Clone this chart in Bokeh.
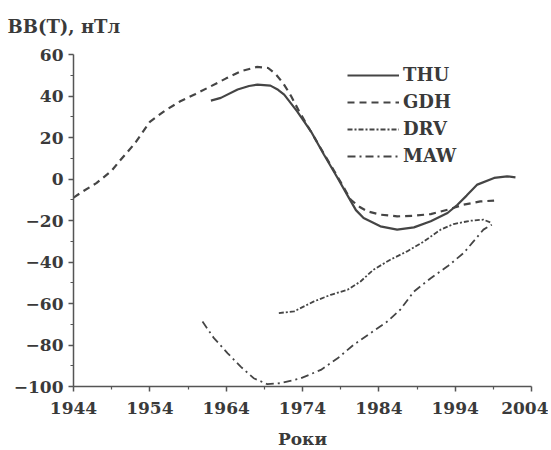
from bokeh.plotting import figure
from bokeh.models import FixedTicker, Legend, LegendItem
from bokeh.embed import file_html
from bokeh.resources import INLINE

# ---- data ----
thu_years = [1962.0, 1963.3, 1965.5, 1967.0, 1968.1, 1969.8, 1970.8, 1971.6, 1973.3, 1975.1,
             1976.8, 1978.6, 1980.1, 1981.0, 1982.0, 1984.2, 1986.4, 1988.6, 1990.8, 1993.0,
             1994.3, 1995.5, 1996.9, 1999.1, 2000.8, 2001.9]
thu_vals = [37.8, 39.1, 43.1, 44.8, 45.5, 45.0, 43.0, 40.7, 32.6, 23.0,
            11.8, 0.5, -9.2, -15.0, -18.8, -22.8, -24.4, -23.3, -20.4, -16.4,
            -12.4, -8.0, -2.7, 0.5, 1.3, 0.8]

gdh_years = [1944.0, 1945.0, 1947.0, 1949.0, 1950.0, 1952.0, 1954.0, 1956.0, 1958.0, 1960.0,
             1962.0, 1964.0, 1966.0, 1968.0, 1969.5, 1970.5, 1971.5, 1972.5, 1973.5, 1975.0,
             1977.0, 1979.0, 1980.3, 1981.5, 1982.5, 1984.2, 1986.4, 1988.6, 1990.8, 1993.0,
             1995.1, 1997.3, 1999.1]
gdh_vals = [-9.0, -6.5, -2.0, 4.0, 8.5, 17.0, 27.5, 33.0, 37.5, 41.0,
            44.7, 48.5, 52.0, 54.0, 53.5, 50.5, 46.0, 40.0, 33.0, 23.5,
            11.0, -1.5, -9.9, -13.5, -15.6, -17.2, -18.0, -17.7, -16.9, -14.8,
            -12.4, -10.8, -10.4]

drv_years = [1970.9, 1972.9, 1975.5, 1977.7, 1979.9, 1981.6, 1983.3, 1985.5, 1987.7, 1989.9,
             1992.1, 1993.8, 1996.0, 1997.7, 1998.8]
drv_vals = [-64.6, -63.8, -59.0, -55.8, -53.4, -49.4, -43.7, -38.9, -34.9, -30.1,
            -24.4, -21.7, -20.1, -19.6, -21.2]

maw_years = [1960.9, 1962.4, 1964.2, 1965.9, 1967.6, 1969.4, 1971.1, 1973.8, 1976.4, 1978.6,
             1980.7, 1982.9, 1985.1, 1986.8, 1988.6, 1990.8, 1993.0, 1995.1, 1996.4, 1997.7,
             1998.8]
maw_vals = [-68.7, -76.7, -84.0, -90.4, -96.0, -98.9, -98.4, -96.0, -92.0, -86.4,
            -79.9, -74.3, -68.7, -63.0, -54.2, -47.8, -42.1, -35.7, -30.1, -24.4,
            -22.0]

x_ticks = [1944, 1954, 1964, 1974, 1984, 1994, 2004]
x_minor = [1949, 1959, 1969, 1979, 1989, 1999]
y_ticks = [-100, -80, -60, -40, -20, 0, 20, 40, 60]
y_minor = [-90, -70, -50, -30, -10, 10, 30, 50]

series_names = ["THU", "GDH", "DRV", "MAW"]
y_title = "BB(T), нТл"
x_title = "Роки"

FONT = "DejaVu Serif"
TXT = "#3a3a3a"
LINE = "#454545"

p = figure(width=548, height=446, frame_width=458, frame_height=332,
           x_range=(1944, 2004), y_range=(-100, 60),
           output_backend="svg", toolbar_location=None,
           min_border_left=73, min_border_top=53, min_border_right=17, min_border_bottom=61)

p.outline_line_color = None
p.grid.visible = False
p.background_fill_color = "white"

p.title.text = y_title
p.title.align = "left"
p.title.vertical_align = "top"
p.title.offset = -66
p.title.standoff = 31
p.title.text_font = FONT
p.title.text_font_style = "bold"
p.title.text_font_size = "18px"
p.title.text_color = TXT

for ax in (p.xaxis[0], p.yaxis[0]):
    ax.major_label_text_font = FONT
    ax.major_label_text_font_style = "bold"
    ax.major_label_text_font_size = "17px"
    ax.major_label_text_color = TXT
    ax.axis_line_color = "#555555"
    ax.axis_line_width = 1.5
    ax.major_tick_line_color = "#555555"
    ax.minor_tick_line_color = "#555555"
    ax.major_tick_line_width = 1.5
    ax.minor_tick_line_width = 1.2
    ax.major_tick_out = 5
    ax.major_tick_in = 0
    ax.minor_tick_out = 3
    ax.minor_tick_in = 0

p.xaxis.ticker = FixedTicker(ticks=x_ticks, minor_ticks=x_minor)
p.yaxis.ticker = FixedTicker(ticks=y_ticks, minor_ticks=y_minor)
p.xaxis.major_label_standoff = 10
p.yaxis.major_label_standoff = 5
p.xaxis.axis_label = x_title
p.xaxis.axis_label_text_font = FONT
p.xaxis.axis_label_text_font_style = "bold"
p.xaxis.axis_label_text_font_size = "17px"
p.xaxis.axis_label_text_color = TXT
p.xaxis.axis_label_standoff = 12

r_thu = p.line(thu_years, thu_vals, line_color=LINE, line_width=2.2)
r_gdh = p.line(gdh_years, gdh_vals, line_color=LINE, line_width=2.2, line_dash="7 5")
r_drv = p.line(drv_years, drv_vals, line_color=LINE, line_width=1.8, line_dash="5 2 2 2")
r_maw = p.line(maw_years, maw_vals, line_color=LINE, line_width=1.8, line_dash="8 4 2 4")

legend = Legend(items=[LegendItem(label=n, renderers=[r]) for n, r in
                       zip(series_names, [r_thu, r_gdh, r_drv, r_maw])],
                location=(274, 220), orientation="vertical")
legend.label_text_font = FONT
legend.label_text_font_style = "bold"
legend.label_text_font_size = "18px"
legend.label_text_color = TXT
legend.glyph_width = 52
legend.glyph_height = 20
legend.label_height = 20
legend.label_standoff = 4
legend.spacing = 6
legend.padding = 0
legend.margin = 0
legend.border_line_color = None
legend.background_fill_alpha = 0
p.add_layout(legend, "center")

open("out.html", "w").write(file_html(p, INLINE))
